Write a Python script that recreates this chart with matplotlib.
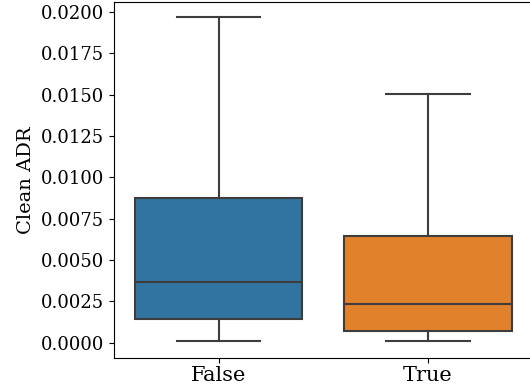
import matplotlib.pyplot as plt

# box statistics
groups = ["False", "True"]
whislo = [0.00008, 0.00008]
q1 = [0.00143, 0.00071]
med = [0.00370, 0.00236]
q3 = [0.00878, 0.00647]
whishi = [0.01966, 0.01505]
colors = ["#3174a1", "#e1812c"]

plt.rcParams['font.family'] = 'DejaVu Serif'

fig = plt.figure(figsize=(5.3, 3.89), dpi=100)
ax = fig.add_axes([0.215, 0.08, 0.79, 0.915])

stats = []
for i in range(len(groups)):
    stats.append(dict(label=groups[i], whislo=whislo[i], q1=q1[i], med=med[i],
                      q3=q3[i], whishi=whishi[i], fliers=[]))

lc = "#3d3d3d"
bp = ax.bxp(stats, positions=range(len(groups)), widths=0.8, patch_artist=True,
            showfliers=False,
            boxprops=dict(edgecolor=lc, linewidth=1.5),
            medianprops=dict(color=lc, linewidth=1.5),
            whiskerprops=dict(color=lc, linewidth=1.5),
            capprops=dict(color=lc, linewidth=1.5),
            capwidths=0.4)
for patch, c in zip(bp['boxes'], colors):
    patch.set_facecolor(c)

ax.set_xlim(-0.5, 1.5)
ax.set_ylim(-0.00091, 0.0206)
ax.set_yticks([0.0, 0.0025, 0.005, 0.0075, 0.01, 0.0125, 0.015, 0.0175, 0.02])
ax.set_yticklabels(["%.4f" % v for v in ax.get_yticks()])
ax.set_xticks(range(len(groups)))
ax.set_xticklabels(groups)
ax.tick_params(axis='y', labelsize=13)
ax.tick_params(axis='x', labelsize=15, pad=2)
ax.set_ylabel("Clean ADR", fontsize=14)

fig.savefig("out.png", dpi=100)
